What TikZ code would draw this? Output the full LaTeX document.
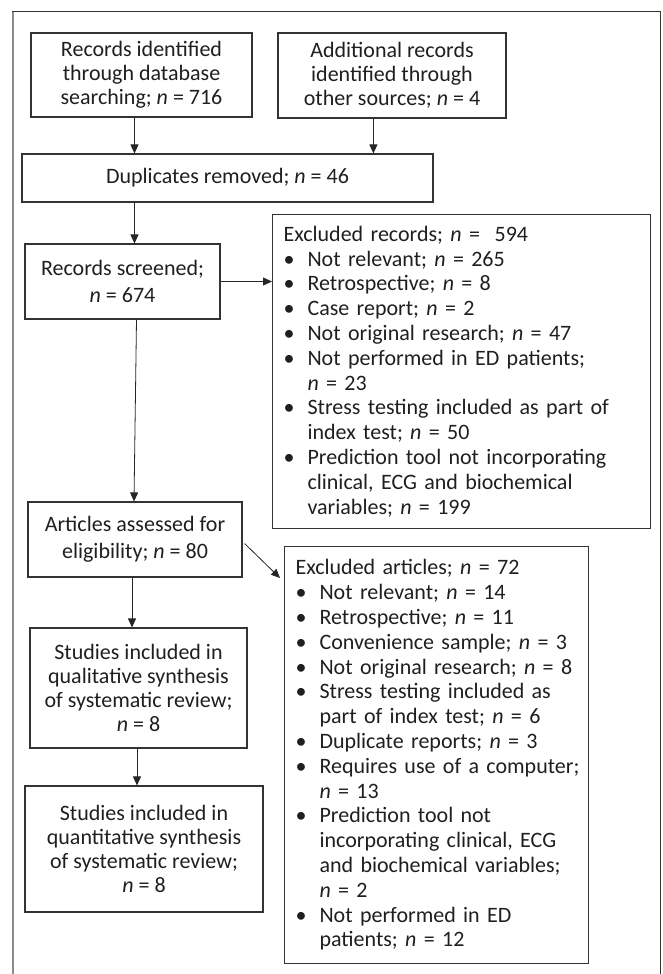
\documentclass[tikz,border=0pt]{standalone}
\usepackage{fontspec}
\setmainfont{Carlito}
\usetikzlibrary{
  arrows.meta
}

\newcommand{\nn}{\textit{n}}
\newcommand{\lsetup}{\leftskip=6pt\relax\hyphenpenalty=10000\relax}
\newcommand{\bul}{\par\hangindent=24pt\hangafter=1\noindent\makebox[24pt][l]{\textbullet}}

\begin{document}
\begin{tikzpicture}[x=1pt, y=-1pt,
  box/.style={draw=black!80, line width=1.1pt, align=center, inner sep=0pt,
    text=black!88, font=\fontsize{22}{24}\selectfont},
  listbox/.style={draw=black!80, line width=1.1pt, align=left, anchor=north west,
    inner xsep=5pt, inner ysep=0pt, text=black!88, font=\fontsize{22}{24.8}\selectfont},
  link/.style={draw=black!85, line width=0.8pt, -{Triangle[length=9pt,width=8pt]}}
  ]
  \useasboundingbox (0,0) rectangle (663,974);
  % outer frame, open at the bottom
  \draw[black!45, line width=2pt] (12.7,11) -- (12.7,974);
  \draw[black!80, line width=0.9pt] (12,11) -- (660,11) -- (660,974);

  \node[box, minimum width=221, minimum height=84] (src1) at (141.5,75)
    {Records identified\\through database\\searching; \nn{} = 716};
  \node[box, minimum width=228, minimum height=85] (src2) at (392,75.5)
    {Additional records\\identified through\\other sources; \nn{} = 4};
  \node[box, minimum width=411, minimum height=48] (dup) at (227.5,178)
    {Duplicates removed; \nn{} = 46};
  \node[box, minimum width=195, minimum height=75] (screened) at (122.5,281.5)
    {Records screened;\\[3pt]\nn{} = 674};
  \node[listbox, text width=368, minimum height=314] (excl1) at (272,214) {\lsetup
    Excluded records; \nn{} =\ \ 594
    \bul Not relevant; \nn{} = 265
    \bul Retrospective; \nn{} = 8
    \bul Case report; \nn{} = 2
    \bul Not original research; \nn{} = 47
    \bul Not performed in ED patients;\newline \nn{} = 23
    \bul Stress testing included as part of\newline index test; \nn{} = 50
    \bul Prediction tool not incorporating\newline clinical, ECG and biochemical\newline variables; \nn{} = 199\par};
  \node[box, minimum width=214, minimum height=75] (articles) at (135,539.5)
    {Articles assessed for\\[3pt]eligibility; \nn{} = 80};
  \node[listbox, text width=294, minimum height=417] (excl2) at (284,546) {\lsetup
    Excluded articles; \nn{} = 72
    \bul Not relevant; \nn{} = 14
    \bul Retrospective; \nn{} = 11
    \bul Convenience sample; \nn{} = 3
    \bul Not original research; \nn{} = 8
    \bul Stress testing included as\newline part of index test; \nn{} = 6
    \bul Duplicate reports; \nn{} = 3
    \bul Requires use of a computer;\newline \nn{} = 13
    \bul Prediction tool not\newline incorporating clinical, ECG\newline and biochemical variables;\newline \nn{} = 2
    \bul Not performed in ED\newline patients; \nn{} = 12\par};
  \node[box, minimum width=217, minimum height=120] (qual) at (138.5,688)
    {Studies included in\\qualitative synthesis\\of systematic review;\\\nn{} = 8};
  \node[box, minimum width=238, minimum height=126] (quant) at (144,849)
    {Studies included in\\quantitative synthesis\\of systematic review;\\\nn{} = 8};

  \draw[link] ([xshift=-7pt]src1.south) -- ([xshift=-7pt]src1.south |- dup.north);
  \draw[link] ([xshift=-18.6pt]src2.south) -- ([xshift=-18.6pt]src2.south |- dup.north);
  \draw[link] ([xshift=12pt]screened.north |- dup.south) -- ([xshift=12pt]screened.north);
  \draw[link] (screened.east) -- (screened.east -| excl1.west);
  \draw[link] ([xshift=14pt]screened.south) -- ([xshift=-1pt]articles.north);
  \draw[link] ([shift={(2,4)}]articles.east) -- ([shift={(-4,32)}]excl2.north west);
  \draw[link] ([xshift=-3pt]articles.south) -- ([xshift=-3pt]articles.south |- qual.north);
  \draw[link] ([xshift=-1.5pt]qual.south) -- ([xshift=-1.5pt]qual.south |- quant.north);
\end{tikzpicture}
\end{document}
